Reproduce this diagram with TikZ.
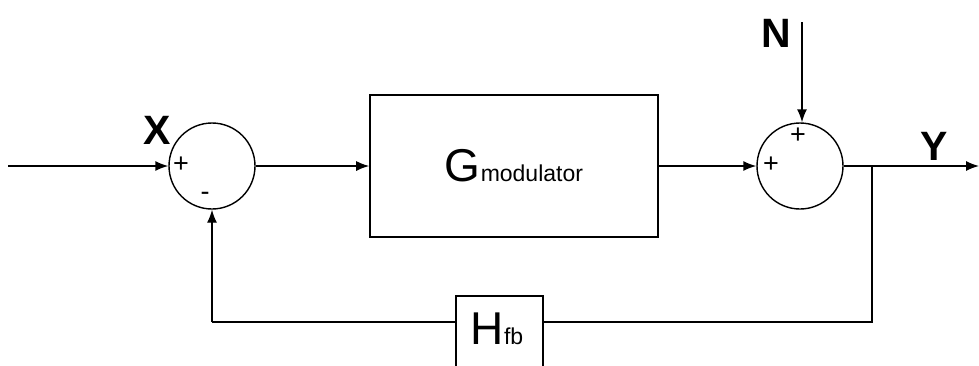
\documentclass[tikz,border=0pt]{standalone}
\usepackage{fontspec}
\setmainfont{Liberation Sans}
\usetikzlibrary{arrows.meta}
\begin{document}
\begin{tikzpicture}[x=1pt,y=-1pt,
  wire/.style={line width=1.4pt,draw=black},
  sig/.style={wire,-{Latex[length=13pt,width=10pt]}},
  blockbox/.style={draw=black,line width=1.6pt,fill=white},
  sumnode/.style={circle,draw=black,line width=1.4pt,minimum size=86pt,inner sep=0pt},
  biglabel/.style={font=\fontsize{41}{44}\selectfont\bfseries,inner sep=0pt},
  signlabel/.style={font=\fontsize{27}{29}\selectfont,inner sep=0pt}]
\useasboundingbox (0,0) rectangle (979,365);
\clip (0,0) rectangle (979,365);

% summing junctions
\node[sumnode] (s1) at (212,166) {};
\node[sumnode] (s2) at (800,166) {};

% forward block
\node[blockbox,minimum width=288pt,minimum height=142pt,inner sep=0pt] (g) at (514,166)
  {\fontsize{46}{48}\selectfont G\fontsize{23}{25}\selectfont modulator};

% feedback block (its lower edge runs off the frame)
\node[blockbox,minimum width=87pt,minimum height=100pt,inner sep=0pt,anchor=north] (h) at (499.5,295) {};
\node[inner sep=0pt] (hlab) at (497,329) {\fontsize{46}{48}\selectfont H\fontsize{23}{25}\selectfont fb};

% terminals
\coordinate (in) at (8,166);
\coordinate (nin) at (802,22);
\coordinate (out) at (979,166);
\coordinate (tap) at (872,166);
\coordinate (fbr) at (872,322);
\coordinate (fbl) at (212,322);

% connectors
\draw[sig] (in) -- (s1.west);
\draw[sig] (s1.east) -- (g.west);
\draw[sig] (g.east) -- (s2.west);
\draw[sig] (nin) -- (nin |- s2.north);
\draw[sig] (s2.east) -- (out);
\draw[wire] (tap) -- (fbr) -- (h.east |- fbr);
\draw[wire] (h.west |- fbr) -- (fbl);
\draw[sig] (fbl) -- (s1.south);

% labels
\node[biglabel] (xl) at (157,130) {X};
\node[biglabel] (nl) at (776,33) {N};
\node[biglabel] (yl) at (934,146) {Y};
\node[signlabel] (p1) at (181,165) {+};
\node[signlabel] (m1) at (205,196) {-};
\node[signlabel] (p2) at (798,136) {+};
\node[signlabel] (p3) at (771,165) {+};
\end{tikzpicture}
\end{document}
